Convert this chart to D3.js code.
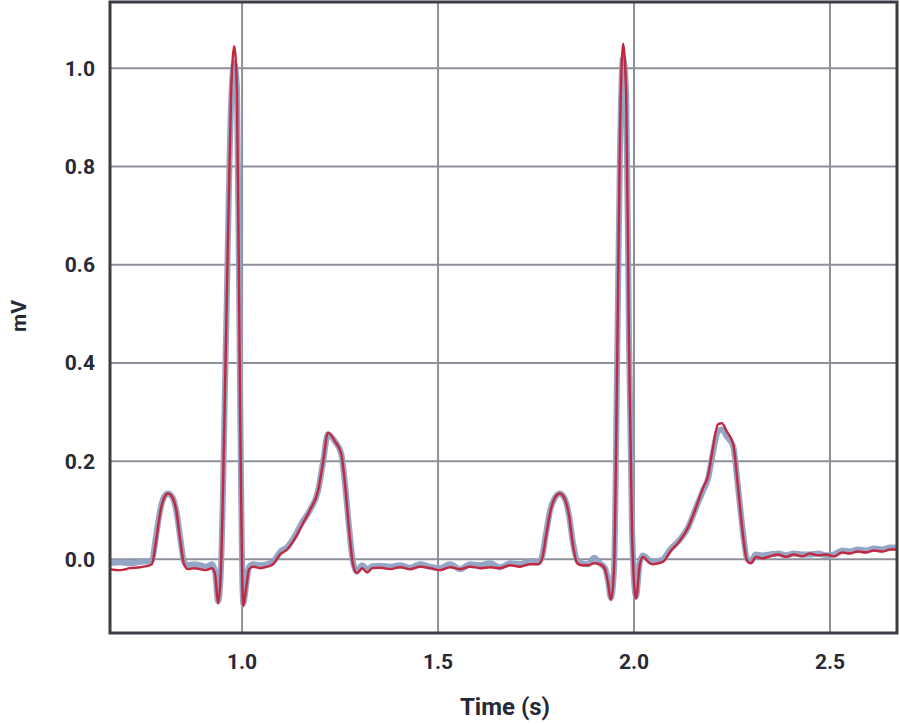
<!DOCTYPE html>
<html>
<head>
<meta charset="utf-8">
<script src="https://cdn.jsdelivr.net/npm/d3@7"></script>
<style>
  html, body { margin: 0; padding: 0; background: #fff; }
  svg text { font-family: Roboto, "Noto Sans", sans-serif; font-weight: 700; fill: #262a36; }
</style>
</head>
<body>
<div id="chart"></div>
<script>
// time samples (s) shared by both traces
const timeS = [0.663,0.689,0.714,0.740,0.765,0.770,0.781,0.791,0.801,0.811,0.821,0.832,0.842,0.852,0.862,0.878,0.893,0.908,0.923,0.931,0.939,0.946,0.959,0.972,0.980,0.987,0.995,1.003,1.010,1.018,1.028,1.046,1.064,1.079,1.097,1.115,1.133,1.153,1.173,1.194,1.207,1.219,1.237,1.253,1.263,1.273,1.283,1.293,1.306,1.319,1.332,1.352,1.378,1.403,1.429,1.454,1.480,1.505,1.531,1.556,1.582,1.607,1.633,1.658,1.684,1.709,1.735,1.755,1.765,1.776,1.786,1.798,1.811,1.824,1.834,1.844,1.855,1.867,1.883,1.898,1.913,1.926,1.934,1.941,1.949,1.957,1.964,1.972,1.980,1.987,1.995,2.005,2.015,2.023,2.036,2.048,2.061,2.074,2.092,2.117,2.138,2.158,2.176,2.189,2.202,2.214,2.224,2.237,2.253,2.265,2.278,2.288,2.298,2.311,2.327,2.347,2.367,2.388,2.408,2.429,2.449,2.469,2.490,2.510,2.531,2.551,2.571,2.592,2.612,2.633,2.653,2.671];

// measured trace (blue-grey, drawn underneath)
const blueMV = [-0.008,-0.006,-0.008,-0.005,-0.004,-0.002,0.05,0.10,0.127,0.134,0.128,0.10,0.045,-0.005,-0.012,-0.01,-0.012,-0.015,-0.01,-0.025,-0.085,-0.02,0.45,0.93,1.01,0.96,0.32,-0.09,-0.055,-0.015,-0.01,-0.012,-0.01,-0.005,0.015,0.025,0.045,0.075,0.10,0.14,0.2,0.255,0.24,0.215,0.15,0.065,-0.005,-0.025,-0.012,-0.02,-0.014,-0.013,-0.015,-0.012,-0.017,-0.01,-0.015,-0.018,-0.01,-0.02,-0.01,-0.012,-0.008,-0.016,-0.008,-0.01,-0.004,-0.006,0.005,0.055,0.10,0.125,0.134,0.122,0.09,0.035,-0.002,-0.008,-0.01,0.003,-0.008,-0.018,-0.045,-0.078,-0.02,0.4,0.82,1.02,0.95,0.46,0.06,-0.075,-0.005,0.008,0,-0.006,-0.004,0,0.02,0.04,0.065,0.105,0.14,0.165,0.22,0.26,0.265,0.25,0.23,0.15,0.055,0.002,-0.004,0.01,0.008,0.01,0.012,0.008,0.012,0.01,0.01,0.012,0.008,0.01,0.018,0.016,0.02,0.018,0.022,0.02,0.024,0.024];

// reconstructed trace (red, drawn on top)
const redMV = [-0.02,-0.022,-0.018,-0.016,-0.012,-0.01,0.04,0.095,0.125,0.134,0.128,0.10,0.04,-0.01,-0.02,-0.018,-0.02,-0.022,-0.018,-0.03,-0.09,-0.02,0.45,0.95,1.045,0.95,0.30,-0.095,-0.06,-0.02,-0.015,-0.018,-0.015,-0.01,0.01,0.02,0.04,0.07,0.10,0.14,0.2,0.258,0.24,0.215,0.15,0.06,-0.01,-0.028,-0.018,-0.027,-0.018,-0.017,-0.02,-0.016,-0.02,-0.015,-0.018,-0.022,-0.016,-0.02,-0.015,-0.018,-0.016,-0.018,-0.012,-0.015,-0.01,-0.01,0.0,0.05,0.095,0.125,0.134,0.122,0.09,0.03,-0.008,-0.012,-0.012,-0.008,-0.01,-0.02,-0.05,-0.083,-0.02,0.4,0.85,1.05,0.95,0.45,0.05,-0.08,-0.01,0.005,-0.005,-0.01,-0.008,-0.005,0.015,0.038,0.065,0.105,0.145,0.17,0.23,0.275,0.277,0.26,0.235,0.15,0.05,-0.002,-0.008,0.005,0.002,0.006,0.01,0.005,0.01,0.006,0.012,0.008,0.01,0.006,0.014,0.012,0.016,0.014,0.018,0.016,0.02,0.02];

const xTicks = [1.0, 1.5, 2.0, 2.5];
const yTicks = [0.0, 0.2, 0.4, 0.6, 0.8, 1.0];

const W = 900, H = 724;
const plotL = 110, plotR = 897, plotT = 2, plotB = 633;

const svg = d3.select("#chart").append("svg")
  .attr("width", W).attr("height", H);

const x = d3.scaleLinear().domain([0.663, 2.671]).range([plotL, plotR]);
const y = d3.scaleLinear().domain([-0.150, 1.135]).range([plotB, plotT]);

// grid
svg.append("g").selectAll("line")
  .data(xTicks).join("line")
  .attr("x1", d => x(d)).attr("x2", d => x(d))
  .attr("y1", plotT).attr("y2", plotB)
  .attr("stroke", "#8d9099").attr("stroke-width", 2);

svg.append("g").selectAll("line")
  .data(yTicks).join("line")
  .attr("x1", plotL).attr("x2", plotR)
  .attr("y1", d => y(d)).attr("y2", d => y(d))
  .attr("stroke", "#8d9099").attr("stroke-width", 2);

svg.append("clipPath").attr("id", "plot")
  .append("rect")
  .attr("x", plotL).attr("y", plotT)
  .attr("width", plotR - plotL).attr("height", plotB - plotT);

const line = vals => d3.line()
  .x((d, i) => x(timeS[i]))
  .y(d => y(d))
  .curve(d3.curveMonotoneX)(vals);

const traces = svg.append("g").attr("clip-path", "url(#plot)");

traces.append("path")
  .attr("d", line(blueMV))
  .attr("fill", "none")
  .attr("stroke", "#8fa0c2")
  .attr("stroke-width", 6)
  .attr("stroke-linejoin", "round")
  .attr("opacity", 0.95);

traces.append("path")
  .attr("d", line(redMV))
  .attr("fill", "none")
  .attr("stroke", "#c2283f")
  .attr("stroke-width", 2.4)
  .attr("stroke-linejoin", "round");

// frame
svg.append("rect")
  .attr("x", plotL).attr("y", plotT)
  .attr("width", plotR - plotL).attr("height", plotB - plotT)
  .attr("fill", "none")
  .attr("stroke", "#3b3d45")
  .attr("stroke-width", 3);

// tick labels
svg.append("g").selectAll("text")
  .data(yTicks).join("text")
  .attr("x", 95).attr("y", d => y(d))
  .attr("dy", "0.36em")
  .attr("text-anchor", "end")
  .attr("font-size", 21)
  .text(d => d.toFixed(1));

svg.append("g").selectAll("text")
  .data(xTicks).join("text")
  .attr("x", d => x(d)).attr("y", 661)
  .attr("dy", "0.36em")
  .attr("text-anchor", "middle")
  .attr("font-size", 21)
  .text(d => d.toFixed(1));

svg.append("text")
  .attr("x", 505).attr("y", 706)
  .attr("dy", "0.36em")
  .attr("text-anchor", "middle")
  .attr("font-size", 24)
  .text("Time (s)");

svg.append("text")
  .attr("transform", "translate(18,316) rotate(-90)")
  .attr("dy", "0.36em")
  .attr("text-anchor", "middle")
  .attr("font-size", 21)
  .text("mV");
</script>
</body>
</html>
